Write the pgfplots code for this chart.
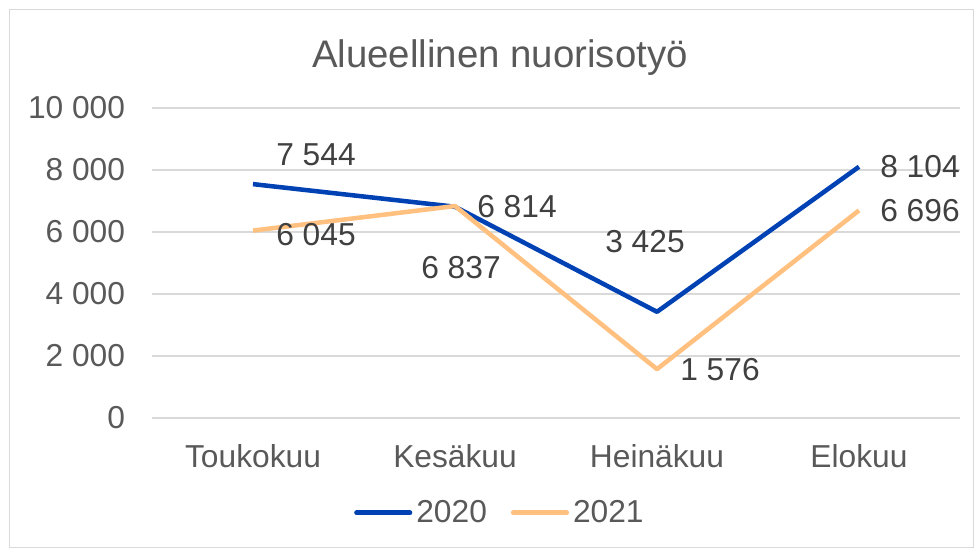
\documentclass[border=0pt]{standalone}
\usepackage{pgfplots}
\pgfplotsset{compat=1.18}
\usepackage{fontspec}
\setmainfont{Liberation Sans}
\definecolor{cblue}{RGB}{0,66,180}
\definecolor{corange}{RGB}{255,192,128}
\definecolor{txtgray}{RGB}{89,89,89}
\definecolor{lblgray}{RGB}{64,64,64}
\definecolor{gridgray}{RGB}{217,217,217}
\newcommand{\tickfont}{\fontsize{23.8}{27}\selectfont}
\begin{document}
\begin{tikzpicture}
\begin{axis}[
  name=ax,
  at={(0,0)}, anchor=south west,
  scale only axis,
  width=606pt, height=232.5pt,
  xmin=-0.5, xmax=3.5, ymin=0, ymax=10000,
  scaled y ticks=false,
  axis line style={draw=none},
  tick style={draw=none},
  xtick={0,1,2,3},
  xticklabels={Toukokuu,Kesäkuu,Heinäkuu,Elokuu},
  ytick={0,2000,4000,6000,8000,10000},
  yticklabels={0,2 000,4 000,6 000,8 000,10 000},
  ymajorgrids,
  grid style={gridgray, line width=1.1pt},
  ticklabel style={font=\tickfont, text=txtgray},
  yticklabel style={inner sep=0pt, xshift=-20pt},
  xticklabel style={inner sep=0pt, yshift=-20pt},
  legend columns=2,
  legend style={draw=none, fill=none, at={(0.431,-0.306)}, anchor=center,
    font=\tickfont, text=txtgray, column sep=1pt, inner xsep=0pt,
    /tikz/every even column/.append style={column sep=16pt}},
  legend image code/.code={\draw[#1, line width=3.6pt, line cap=round] (0pt,0pt) -- (40pt,0pt);},
  clip=false,
]
\addplot[cblue, line width=3.4pt, line join=round] coordinates {(0,7544) (1,6814) (2,3425) (3,8104)};
\addlegendentry{2020}
\addplot[corange, line width=3.4pt, line join=round] coordinates {(0,6045) (1,6837) (2,1576) (3,6696)};
\addlegendentry{2021}
\begin{scope}[font=\tickfont, text=lblgray]
\node[xshift=47.25pt, yshift=21.75pt] at (axis cs:0,7544) {7 544};
\node[xshift=46.5pt] at (axis cs:1,6814) {6 814};
\node[xshift=-9pt, yshift=52.5pt] at (axis cs:2,3425) {3 425};
\node[xshift=45.75pt] at (axis cs:3,8104) {8 104};
\node[xshift=47.25pt, yshift=-3pt] at (axis cs:0,6045) {6 045};
\node[xshift=4.5pt, yshift=-46.5pt] at (axis cs:1,6837) {6 837};
\node[xshift=47.25pt] at (axis cs:2,1576) {1 576};
\node[xshift=45.75pt] at (axis cs:3,6696) {6 696};
\end{scope}
\end{axis}
\begin{scope}[x=0.75pt, y=0.75pt]
\useasboundingbox (-152,-130) rectangle (822,418);
\draw[gridgray, line width=0.75pt] (-142,-129.4) rectangle (821.4,408);
\node[font=\fontsize{28.8}{32}\selectfont, text=txtgray] at (348,360) {Alueellinen nuorisotyö};
\end{scope}
\end{tikzpicture}
\end{document}
